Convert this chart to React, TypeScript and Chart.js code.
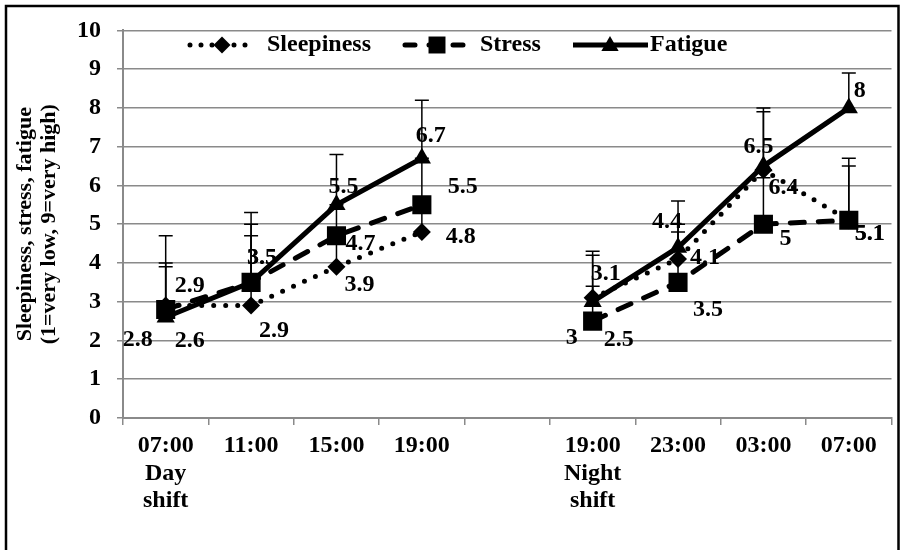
import React, { useEffect, useRef } from 'react';
import { Chart, registerables } from 'chart.js';

Chart.register(...registerables);

// ---- data ----
const dayTimes = ['07:00', '11:00', '15:00', '19:00'];
const nightTimes = ['19:00', '23:00', '03:00', '07:00'];
const dayShiftLabel = ['Day', 'shift'];
const nightShiftLabel = ['Night', 'shift'];

const seriesNames = ['Sleepiness', 'Stress', 'Fatigue'];

const sleepinessDay = [2.9, 2.9, 3.9, 4.8];
const sleepinessNight = [3.1, 4.1, 6.4, 5.1];
const stressDay = [2.8, 3.5, 4.7, 5.5];
const stressNight = [2.5, 3.5, 5.0, 5.1];
const fatigueDay = [2.6, 3.5, 5.5, 6.7];
const fatigueNight = [3.0, 4.4, 6.5, 8.0];

// upper error bars (SD)
const sleepinessDaySD = [1.1, 1.8, 0.8, 0.7];
const sleepinessNightSD = [1.1, 0.9, 1.5, 1.4];
const stressDaySD = [1.1, 1.5, 0.8, 1.2];
const stressNightSD = [0.9, 1.3, 1.2, 1.6];
const fatigueDaySD = [2.1, 1.8, 1.3, 1.5];
const fatigueNightSD = [1.3, 1.2, 1.5, 0.9];

const yTicksMin = 0;
const yTicksMax = 10;
const yTitle = ['Sleepiness, stress, fatigue', '(1=very low, 9=very high)'];

// ---- styling (label placement offsets, px) ----
const labelOffsets: Record<string, ([number, number] | null)[]> = {
  Sleepiness: [[24, -20], [23, 25], [23, 18], [39, 5], null, [13, -24], [27, -1], [20, 18], [21, 13]],
  Stress: [[-28, 30], [11, -25], [24, 8], [41, -18], null, [26, 19], [30, 27], [22, 15], [21, 13]],
  Fatigue: [[24, 24], [11, -25], [7, -18], [9, -23], null, [-21, 36], [-11, -26], [-5, -19], [11, -17]],
};

const FONT = '"Liberation Serif", "Times New Roman", serif';
const FS = 24;
const GRID = '#8a8a8a';

const categories: string[][] = [
  ...dayTimes.map((t, i) => (i === 0 ? [t, ...dayShiftLabel] : [t])),
  [''],
  ...nightTimes.map((t, i) => (i === 0 ? [t, ...nightShiftLabel] : [t])),
];

const joinShift = (a: number[], b: number[]) => [...a, null, ...b];

const seriesValues = [
  joinShift(sleepinessDay, sleepinessNight),
  joinShift(stressDay, stressNight),
  joinShift(fatigueDay, fatigueNight),
];
const seriesErrors = [
  joinShift(sleepinessDaySD, sleepinessNightSD),
  joinShift(stressDaySD, stressNightSD),
  joinShift(fatigueDaySD, fatigueNightSD),
];

const styles = [
  { dash: [0, 12], pointStyle: 'rectRot', radius: 9 },
  { dash: [14, 14], pointStyle: 'rect', radius: 13.5 },
  { dash: [], pointStyle: 'triangle', radius: 10.5 },
];

function drawMarker(ctx: CanvasRenderingContext2D, style: string, x: number, y: number, r: number) {
  ctx.beginPath();
  if (style === 'rectRot') {
    ctx.moveTo(x, y - r);
    ctx.lineTo(x + r, y);
    ctx.lineTo(x, y + r);
    ctx.lineTo(x - r, y);
  } else if (style === 'rect') {
    const h = r * Math.SQRT1_2;
    ctx.rect(x - h, y - h, 2 * h, 2 * h);
  } else {
    ctx.moveTo(x, y - r);
    ctx.lineTo(x + r * Math.sin((2 * Math.PI) / 3), y + r / 2);
    ctx.lineTo(x - r * Math.sin((2 * Math.PI) / 3), y + r / 2);
  }
  ctx.closePath();
  ctx.fillStyle = '#000';
  ctx.fill();
}

const customPlugin = {
  id: 'custom',
  beforeDraw(chart: any) {
    const ctx = chart.ctx as CanvasRenderingContext2D;
    ctx.save();
    ctx.fillStyle = '#fff';
    ctx.fillRect(0, 0, chart.width, chart.height);
    ctx.restore();
  },
  beforeDatasetsDraw(chart: any) {
    const ctx = chart.ctx as CanvasRenderingContext2D;
    const yScale = chart.scales.y;
    ctx.save();
    // data labels
    ctx.font = `bold ${FS}px ${FONT}`;
    ctx.fillStyle = '#000';
    ctx.textAlign = 'center';
    ctx.textBaseline = 'middle';
    chart.data.datasets.forEach((ds: any, di: number) => {
      const meta = chart.getDatasetMeta(di);
      const offs = labelOffsets[ds.label];
      ds.data.forEach((v: number | null, i: number) => {
        if (v === null || !offs[i]) return;
        const pt = meta.data[i];
        const [dx, dy] = offs[i] as [number, number];
        ctx.fillText(String(v), pt.x + dx, pt.y + dy);
      });
    });
    // error bars
    ctx.strokeStyle = '#000';
    ctx.lineWidth = 1.5;
    chart.data.datasets.forEach((ds: any, di: number) => {
      const meta = chart.getDatasetMeta(di);
      ds.data.forEach((v: number | null, i: number) => {
        if (v === null) return;
        const e = ds.errors[i];
        const pt = meta.data[i];
        const yTop = yScale.getPixelForValue(v + e);
        ctx.beginPath();
        ctx.moveTo(pt.x, pt.y);
        ctx.lineTo(pt.x, yTop);
        ctx.moveTo(pt.x - 7, yTop);
        ctx.lineTo(pt.x + 7, yTop);
        ctx.stroke();
      });
    });
    ctx.restore();
  },
  afterDraw(chart: any) {
    const ctx = chart.ctx as CanvasRenderingContext2D;
    ctx.save();
    // legend
    const ly = 45;
    const items = [
      { x0: 190, x1: 255, mx: 222, r: 8.5, tx: 267 },
      { x0: 405, x1: 468, mx: 437, r: 12, tx: 480 },
      { x0: 573, x1: 648, mx: 610, r: 10, tx: 650 },
    ];
    items.forEach((it, i) => {
      ctx.strokeStyle = '#000';
      ctx.lineWidth = 5;
      ctx.lineCap = i === 2 ? 'butt' : 'round';
      ctx.setLineDash(i === 0 ? [0, 11] : i === 1 ? [10, 14] : []);
      ctx.beginPath();
      ctx.moveTo(it.x0, ly);
      ctx.lineTo(it.x1, ly);
      ctx.stroke();
      ctx.setLineDash([]);
      drawMarker(ctx, styles[i].pointStyle, it.mx, i === 2 ? ly + 1 : ly, it.r);
      ctx.font = `bold ${FS}px ${FONT}`;
      ctx.fillStyle = '#000';
      ctx.textAlign = 'left';
      ctx.textBaseline = 'middle';
      ctx.fillText(seriesNames[i], it.tx, ly);
    });
    // outer frame
    ctx.strokeStyle = '#000';
    ctx.lineWidth = 2.5;
    ctx.lineCap = 'butt';
    ctx.beginPath();
    ctx.moveTo(6, 560);
    ctx.lineTo(6, 6);
    ctx.lineTo(898.5, 6);
    ctx.lineTo(898.5, 560);
    ctx.stroke();
    ctx.restore();
  },
};

export default function App() {
  const ref = useRef<HTMLCanvasElement>(null);
  useEffect(() => {
    const canvas = ref.current!;
    const datasets = seriesNames.map((name, i) => ({
      label: name,
      data: seriesValues[i],
      errors: seriesErrors[i],
      borderColor: '#000',
      backgroundColor: '#000',
      borderWidth: 5,
      borderDash: styles[i].dash,
      borderCapStyle: i === 2 ? 'butt' : 'round',
      pointStyle: styles[i].pointStyle,
      pointRadius: styles[i].radius,
      pointBorderWidth: 0,
      pointBackgroundColor: '#000',
      pointBorderColor: '#000',
      spanGaps: false,
      tension: 0,
      order: 3 - i,
    }));
    const chart = new Chart(canvas, {
      type: 'line',
      data: { labels: categories, datasets: datasets as any },
      options: {
        responsive: false,
        animation: false,
        devicePixelRatio: 1,
        layout: { padding: { top: 23, right: 13, left: 0, bottom: 0 } },
        plugins: { legend: { display: false }, tooltip: { enabled: false } },
        scales: {
          x: {
            offset: true,
            grid: { offset: true, drawOnChartArea: false, drawTicks: true, tickLength: 7, color: GRID, lineWidth: 1.5 },
            border: { color: GRID, width: 2 },
            ticks: {
              autoSkip: false,
              maxRotation: 0,
              minRotation: 0,
              color: '#000',
              padding: 7,
              font: { family: FONT, size: FS, weight: 'bold', lineHeight: 1.15 },
            },
            afterFit: (s: any) => {
              s.height = 132;
            },
          },
          y: {
            min: yTicksMin,
            max: yTicksMax,
            ticks: {
              stepSize: 1,
              color: '#000',
              padding: 16,
              font: { family: FONT, size: FS, weight: 'bold' },
            },
            grid: { color: GRID, lineWidth: 1.5, tickLength: 6 },
            border: { color: GRID, width: 2 },
            title: {
              display: true,
              text: yTitle,
              color: '#000',
              font: { family: FONT, size: 22, weight: 'bold', lineHeight: 1.1 },
              padding: { top: 13, bottom: 0 },
            },
            afterFit: (s: any) => {
              s.width = 123;
            },
          },
        },
      } as any,
      plugins: [customPlugin],
    });
    return () => chart.destroy();
  }, []);
  return (
    <div style={{ position: 'absolute', left: 0, top: 0, width: 905, height: 550, background: '#fff' }}>
      <canvas ref={ref} width={905} height={550} style={{ display: 'block' }} />
    </div>
  );
}
